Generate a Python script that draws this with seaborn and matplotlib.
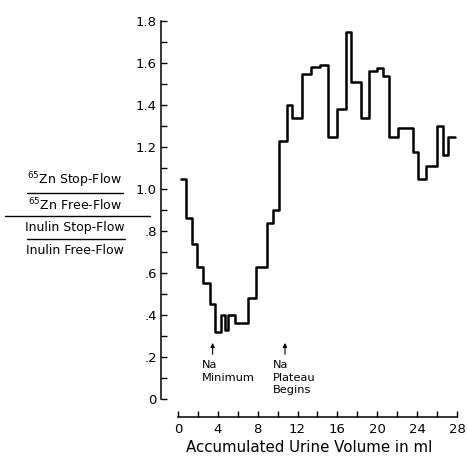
import numpy as np
import pandas as pd
import matplotlib
matplotlib.use("Agg")
import matplotlib.pyplot as plt
from matplotlib.lines import Line2D
from matplotlib.ticker import MultipleLocator, FixedLocator, FixedFormatter
import seaborn as sns

# step edges (ml) and ratio value on each interval
volume_edges = [0.3, 0.8, 1.37, 1.87, 2.54, 3.2, 3.71, 4.32, 4.72, 5.05,
                5.72, 7.06, 7.83, 8.9, 9.57, 10.14, 10.91, 11.41, 12.42, 13.32,
                14.26, 15.1, 15.95, 16.87, 17.37, 18.34, 19.17, 19.95, 20.6, 21.18,
                22.06, 23.63, 24.13, 24.9, 26.04, 26.64, 27.14, 27.8]
ratio = [1.05, 0.86, 0.74, 0.63, 0.55, 0.45, 0.32, 0.40, 0.33, 0.40,
         0.36, 0.48, 0.63, 0.84, 0.90, 1.23, 1.40, 1.34, 1.55, 1.58,
         1.59, 1.25, 1.38, 1.75, 1.51, 1.34, 1.56, 1.575, 1.54, 1.25,
         1.29, 1.175, 1.05, 1.11, 1.30, 1.16, 1.25]

xticks = [0, 4, 8, 12, 16, 20, 24, 28]
yticks = [0, 0.2, 0.4, 0.6, 0.8, 1.0, 1.2, 1.4, 1.6, 1.8]
ytick_labels = ["0", ".2", ".4", ".6", ".8", "1.0", "1.2", "1.4", "1.6", "1.8"]

df = pd.DataFrame({"volume": volume_edges, "ratio": ratio + [ratio[-1]]})

sns.set_style("ticks")
plt.rcParams["font.family"] = ["DejaVu Sans"]
plt.rcParams.update({"text.color": "black", "axes.labelcolor": "black",
                     "xtick.color": "black", "ytick.color": "black",
                     "axes.edgecolor": "black"})

fig = plt.figure(figsize=(4.68, 4.62), dpi=100)
ax = fig.add_axes([0.344, 0.0974, 0.6325, 0.8593])

sns.lineplot(data=df, x="volume", y="ratio", estimator=None, sort=False,
             drawstyle="steps-post", color="black", linewidth=1.8, ax=ax)

ax.set_xlim(-1.7, 28.0)
ax.set_ylim(-0.086, 1.805)
sns.despine(ax=ax)
ax.spines["bottom"].set_bounds(0, 28)
ax.spines["left"].set_bounds(0, 1.8)
for s in ("bottom", "left"):
    ax.spines[s].set_linewidth(1.1)

ax.xaxis.set_major_locator(FixedLocator(xticks))
ax.xaxis.set_minor_locator(MultipleLocator(2))
ax.yaxis.set_major_locator(FixedLocator(yticks))
ax.yaxis.set_major_formatter(FixedFormatter(ytick_labels))
ax.yaxis.set_minor_locator(MultipleLocator(0.1))
ax.tick_params(which="both", direction="in", length=4, width=1.0, labelsize=9.5, pad=4)
ax.tick_params(axis="y", which="major", pad=3)

ax.set_xlabel("Accumulated Urine Volume in ml", fontsize=10.8, labelpad=3)
ax.set_ylabel("")

# Na annotations
for xv in [3.48, 10.74]:
    ax.annotate("", xy=(xv, 0.28), xytext=(xv, 0.2),
                arrowprops=dict(arrowstyle="-|>", color="black", lw=0.8,
                                mutation_scale=6))
for xv, label in [(2.4, "Na\nMinimum"), (9.5, "Na\nPlateau\nBegins")]:
    ax.text(xv, 0.185, label, ha="left", va="top", fontsize=8.2, linespacing=1.3)

# stacked ratio label on the left
lab_x = 75 / 468
lines = [(180, r"$^{65}$Zn Stop-Flow"), (205, r"$^{65}$Zn Free-Flow"),
         (228, "Inulin Stop-Flow"), (251, "Inulin Free-Flow")]
for ypx, txt in lines:
    fig.text(lab_x, 1 - ypx / 462, txt, ha="center", va="center", fontsize=9)
for y_px, x0, x1 in [(193, 27, 123), (216, 5, 150), (239, 27, 125)]:
    fig.add_artist(Line2D([x0 / 468, x1 / 468], [1 - y_px / 462] * 2,
                          color="black", lw=1.0, transform=fig.transFigure))

fig.savefig("out.png", dpi=100)
